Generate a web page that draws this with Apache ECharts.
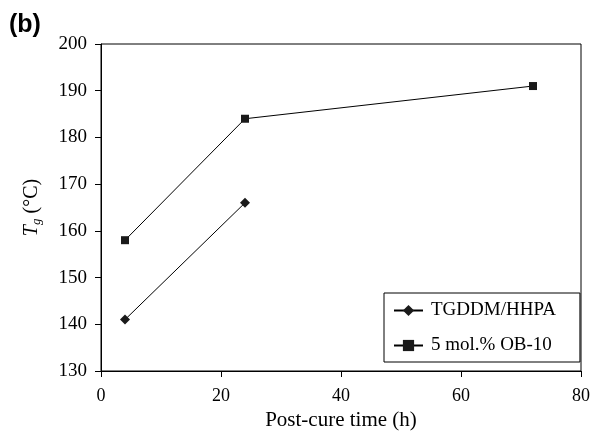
<!DOCTYPE html>
<html>
<head>
<meta charset="utf-8">
<script src="https://cdn.jsdelivr.net/npm/echarts@6/dist/echarts.min.js"></script>
<style>
  html, body { margin: 0; padding: 0; background: #fff; }
  #main { width: 593px; height: 433px; }
</style>
</head>
<body>
<div id="main"></div>
<script>
// post-cure time (h) vs Tg
const seriesNames = ["TGDDM/HHPA", "5 mol.% OB-10"];
const tgddmData = [[4, 141], [24, 166]];
const ob10Data = [[4, 158], [24, 184], [72, 191]];
const xTicks = [0, 20, 40, 60, 80];
const yTicks = [130, 140, 150, 160, 170, 180, 190, 200];

const serif = "'Liberation Serif', 'DejaVu Serif', serif";

let myChart = echarts.init(document.getElementById("main"));

let option = {
  backgroundColor: "#fff",
  animation: false,
  title: {
    text: "(b)",
    left: 9,
    top: 13,
    padding: 0,
    textStyle: {
      fontFamily: "'Liberation Sans', Arial, sans-serif",
      fontWeight: "bold",
      fontSize: 25,
      color: "#000",
    },
  },
  grid: {
    left: 101,
    right: 12,
    top: 44,
    bottom: 62,
    outerBoundsMode: "none",
    show: true,
    borderColor: "#000",
    borderWidth: 1,
  },
  legend: {
    data: seriesNames,
    orient: "vertical",
    left: 384,
    top: 293,
    padding: [8, 24, 7, 9],
    itemWidth: 29,
    itemHeight: 14,
    itemGap: 16,
    borderColor: "#000",
    borderWidth: 1,
    textStyle: { fontFamily: serif, fontSize: 19, color: "#000", padding: [0, 0, 0, 3] },
  },
  xAxis: {
    type: "value",
    min: 0,
    max: 80,
    interval: 20,
    name: "Post-cure time (h)",
    nameLocation: "middle",
    nameGap: 38,
    nameTextStyle: { fontFamily: serif, fontSize: 21, color: "#000" },
    axisLine: { lineStyle: { color: "#000", width: 1 } },
    axisTick: { show: true, length: 6, lineStyle: { color: "#000" } },
    axisLabel: {
      margin: 16,
      fontFamily: serif,
      fontSize: 18,
      color: "#000",
      formatter: (v) => (xTicks.includes(v) ? String(v) : ""),
    },
    splitLine: { show: false },
  },
  yAxis: {
    type: "value",
    min: 130,
    max: 200,
    interval: 10,
    name: "{i|T}{s|g} (°C)",
    nameLocation: "middle",
    nameGap: 58,
    nameRotate: 90,
    nameTextStyle: {
      fontFamily: serif,
      fontSize: 20,
      color: "#000",
      rich: {
        i: { fontFamily: serif, fontSize: 20, fontStyle: "italic", color: "#000" },
        s: { fontFamily: serif, fontSize: 13, fontStyle: "italic", color: "#000", padding: [9, 0, 0, 0] },
      },
    },
    axisLine: { show: true, lineStyle: { color: "#000", width: 1 } },
    axisTick: { show: true, length: 6, lineStyle: { color: "#000" } },
    axisLabel: {
      margin: 14,
      fontFamily: serif,
      fontSize: 19,
      color: "#000",
      formatter: (v) => (yTicks.includes(v) ? String(v) : ""),
    },
    splitLine: { show: false },
  },
  series: [
    {
      name: seriesNames[0],
      type: "line",
      data: tgddmData,
      symbol: "diamond",
      symbolSize: 10,
      itemStyle: { color: "#1a1a1a" },
      lineStyle: { color: "#000", width: 1 },
    },
    {
      name: seriesNames[1],
      type: "line",
      data: ob10Data,
      symbol: "rect",
      symbolSize: 8,
      itemStyle: { color: "#1a1a1a" },
      lineStyle: { color: "#000", width: 1 },
    },
  ],
};

option && myChart.setOption(option);
</script>
</body>
</html>
